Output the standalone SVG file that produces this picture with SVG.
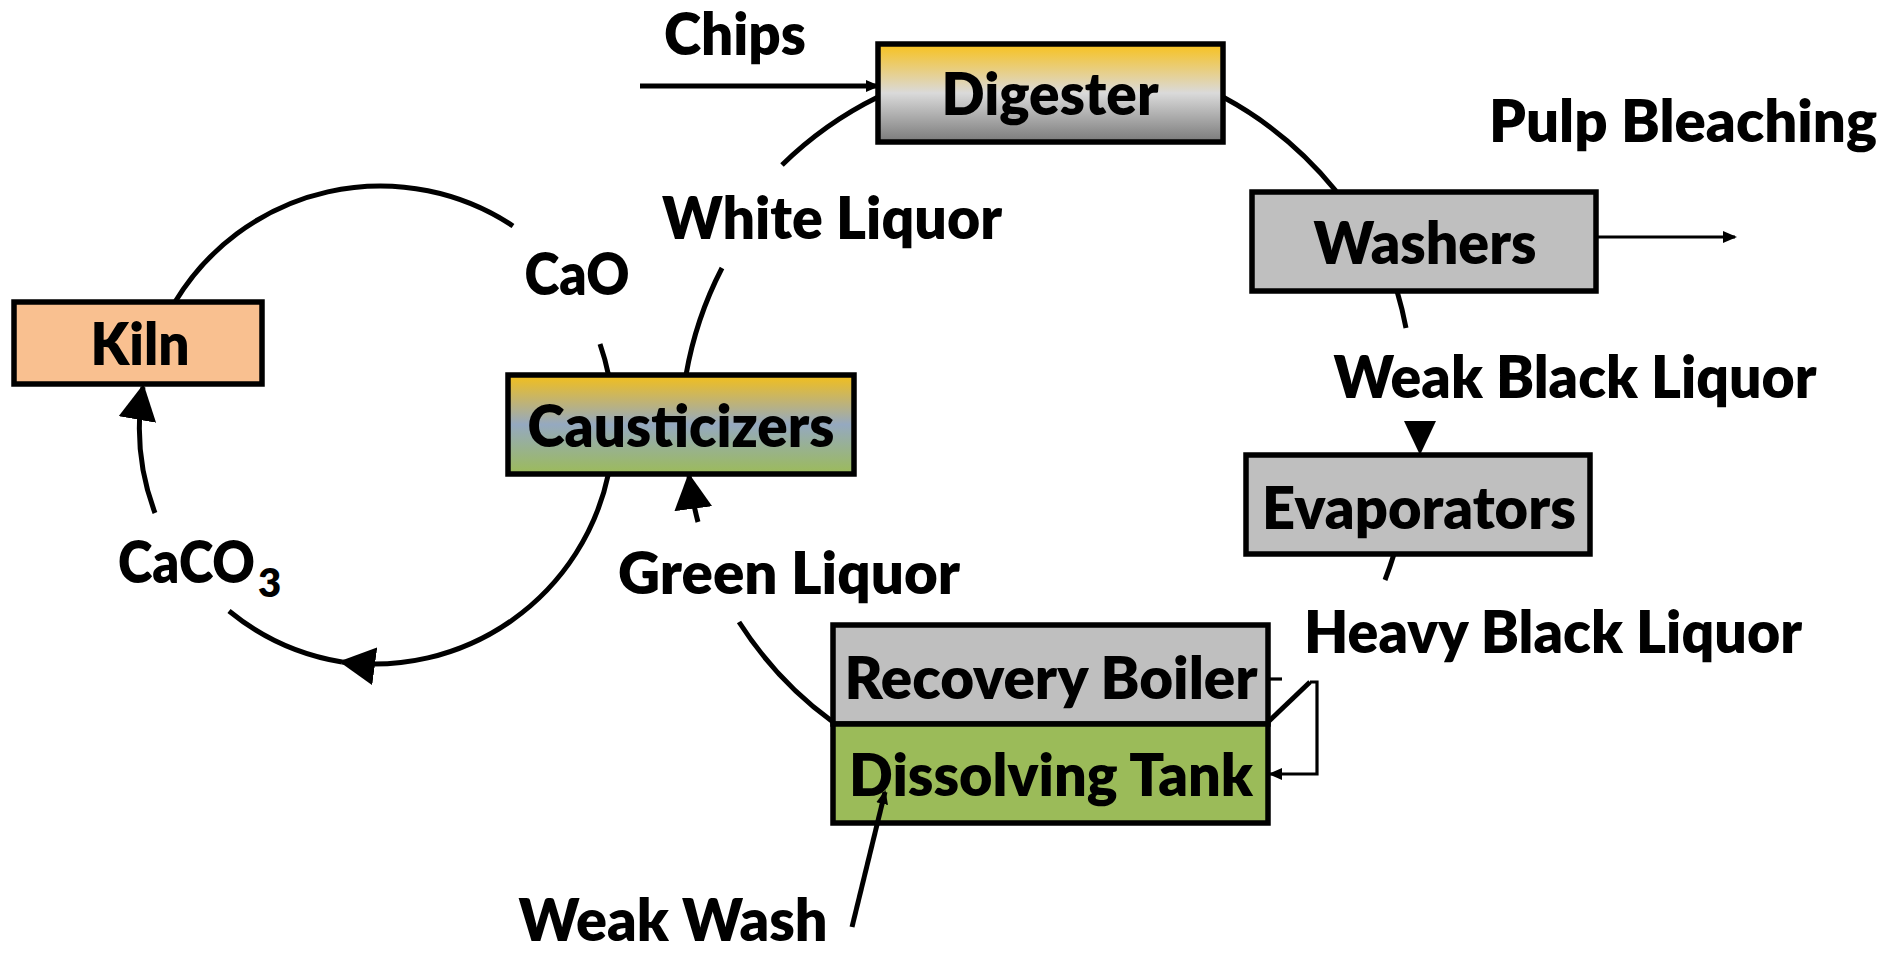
<svg xmlns="http://www.w3.org/2000/svg" width="1893" height="953" viewBox="0 0 1893 953">
<style>
.box{stroke:#000;stroke-width:5.5}
.lbl{font-family:Lato,"Open Sans","Liberation Sans",sans-serif;font-weight:800;font-size:58px;fill:#000}
.c{text-anchor:middle}
.ln{fill:none;stroke:#000;stroke-width:5}
.th{fill:none;stroke:#000;stroke-width:3.2}
</style>
<defs>
<linearGradient id="gDig" x1="0" y1="0" x2="0" y2="1">
<stop offset="0" stop-color="#f8c11c"/>
<stop offset="0.5" stop-color="#dadada"/>
<stop offset="1" stop-color="#7a7a7a"/>
</linearGradient>
<linearGradient id="gCau" x1="0" y1="0" x2="0" y2="1">
<stop offset="0" stop-color="#f3bf1a"/>
<stop offset="0.5" stop-color="#95a9c0"/>
<stop offset="1" stop-color="#9cbb59"/>
</linearGradient>
<marker id="big" viewBox="0 0 36 38" refX="33" refY="19" markerWidth="36" markerHeight="38" markerUnits="userSpaceOnUse" orient="auto">
<path d="M0,0 L36,19 L0,38 z" fill="#000"/>
</marker>
<marker id="sm" viewBox="0 0 14 12" refX="12" refY="6" markerWidth="14" markerHeight="12" markerUnits="userSpaceOnUse" orient="auto">
<path d="M0,0 L14,6 L0,12 z" fill="#000"/>
</marker>
</defs>
<rect width="1893" height="953" fill="#fff"/>
<g id="digester"><rect class="box" x="878" y="44" width="345" height="98" fill="url(#gDig)"/><text class="lbl c" x="1050" y="115" textLength="217" lengthAdjust="spacingAndGlyphs">Digester</text></g>
<g id="washers"><rect class="box" x="1252" y="192" width="344" height="99" fill="#bfbfbf"/><text class="lbl c" x="1425" y="264" textLength="223" lengthAdjust="spacingAndGlyphs">Washers</text></g>
<g id="evaporators"><rect class="box" x="1246" y="455" width="344" height="99" fill="#bfbfbf"/><text class="lbl c" x="1419" y="529" textLength="314" lengthAdjust="spacingAndGlyphs">Evaporators</text></g>
<g id="recovery-boiler"><rect class="box" x="833" y="625" width="435" height="99" fill="#bfbfbf"/><text class="lbl c" x="1051" y="699" textLength="413" lengthAdjust="spacingAndGlyphs">Recovery Boiler</text></g>
<g id="dissolving-tank"><rect class="box" x="833" y="724" width="435" height="99" fill="#9bbb59"/><text class="lbl c" x="1051" y="796" textLength="404" lengthAdjust="spacingAndGlyphs">Dissolving Tank</text></g>
<g id="causticizers"><rect class="box" x="508" y="375" width="346" height="99" fill="url(#gCau)"/><text class="lbl c" x="681" y="447" textLength="307" lengthAdjust="spacingAndGlyphs">Causticizers</text></g>
<g id="kiln"><rect class="box" x="14" y="302" width="248" height="82" fill="#f9c090"/><text class="lbl c" x="140" y="365" textLength="99" lengthAdjust="spacingAndGlyphs">Kiln</text></g>
<g id="connectors">
<!-- lime cycle -->
<path class="ln" d="M175,302 A240,240 0 0 1 513,226"/>
<path class="ln" d="M600,344 A240,240 0 0 1 608.5,375"/>
<path class="ln" d="M608.4,474 A240,240 0 0 1 342,662" marker-end="url(#big)"/>
<path class="ln" d="M342,662 A240,240 0 0 1 229,611"/>
<path class="ln" d="M155,513 A240,240 0 0 1 143,387" marker-end="url(#big)"/>
<!-- liquor cycle -->
<path class="ln" d="M782,165 A370,370 0 0 1 878,97"/>
<path class="ln" d="M1223,97 A370,370 0 0 1 1336,191"/>
<path class="ln" d="M1397,291 A370,370 0 0 1 1406,328"/>
<polygon points="1404,421 1436,421 1420,455" fill="#000"/>
<path class="ln" d="M1394,554 A370,370 0 0 1 1385,580"/>
<path class="ln" d="M1310,682 L1268,722"/>
<path class="ln" d="M833,722 A370,370 0 0 1 739,622"/>
<path class="ln" d="M698,522 A370,370 0 0 1 689,476" marker-end="url(#big)"/>
<path class="ln" d="M686,375 A370,370 0 0 1 722,268"/>
<!-- straight arrows -->
<path class="ln" d="M640,86 L878,86" marker-end="url(#sm)"/>
<path class="th" d="M1598,237 L1735,237" marker-end="url(#sm)"/>
<path class="ln" d="M852,927 L885,792" marker-end="url(#sm)"/>
<path class="th" d="M1268,679 L1282,679"/>
<path class="th" d="M1310,682 L1317,682 L1317,774 L1270,774" marker-end="url(#sm)"/>
</g>
<g id="labels">
<text class="lbl c" x="735" y="55" textLength="142" lengthAdjust="spacingAndGlyphs">Chips</text>
<text class="lbl c" x="1683" y="142" textLength="388" lengthAdjust="spacingAndGlyphs">Pulp Bleaching</text>
<text class="lbl c" x="832" y="239" textLength="340" lengthAdjust="spacingAndGlyphs">White Liquor</text>
<text class="lbl c" x="577" y="295" textLength="105" lengthAdjust="spacingAndGlyphs">CaO</text>
<text class="lbl c" x="1575" y="398" textLength="483" lengthAdjust="spacingAndGlyphs">Weak Black Liquor</text>
<text class="lbl c" x="789" y="594" textLength="342" lengthAdjust="spacingAndGlyphs">Green Liquor</text>
<text class="lbl" x="118" y="583"><tspan textLength="137" lengthAdjust="spacingAndGlyphs">CaCO</tspan><tspan x="258" y="597" font-size="40">3</tspan></text>
<text class="lbl c" x="1553" y="653" textLength="498" lengthAdjust="spacingAndGlyphs">Heavy Black Liquor</text>
<text class="lbl c" x="673" y="941" textLength="309" lengthAdjust="spacingAndGlyphs">Weak Wash</text>
</g>
</svg>
